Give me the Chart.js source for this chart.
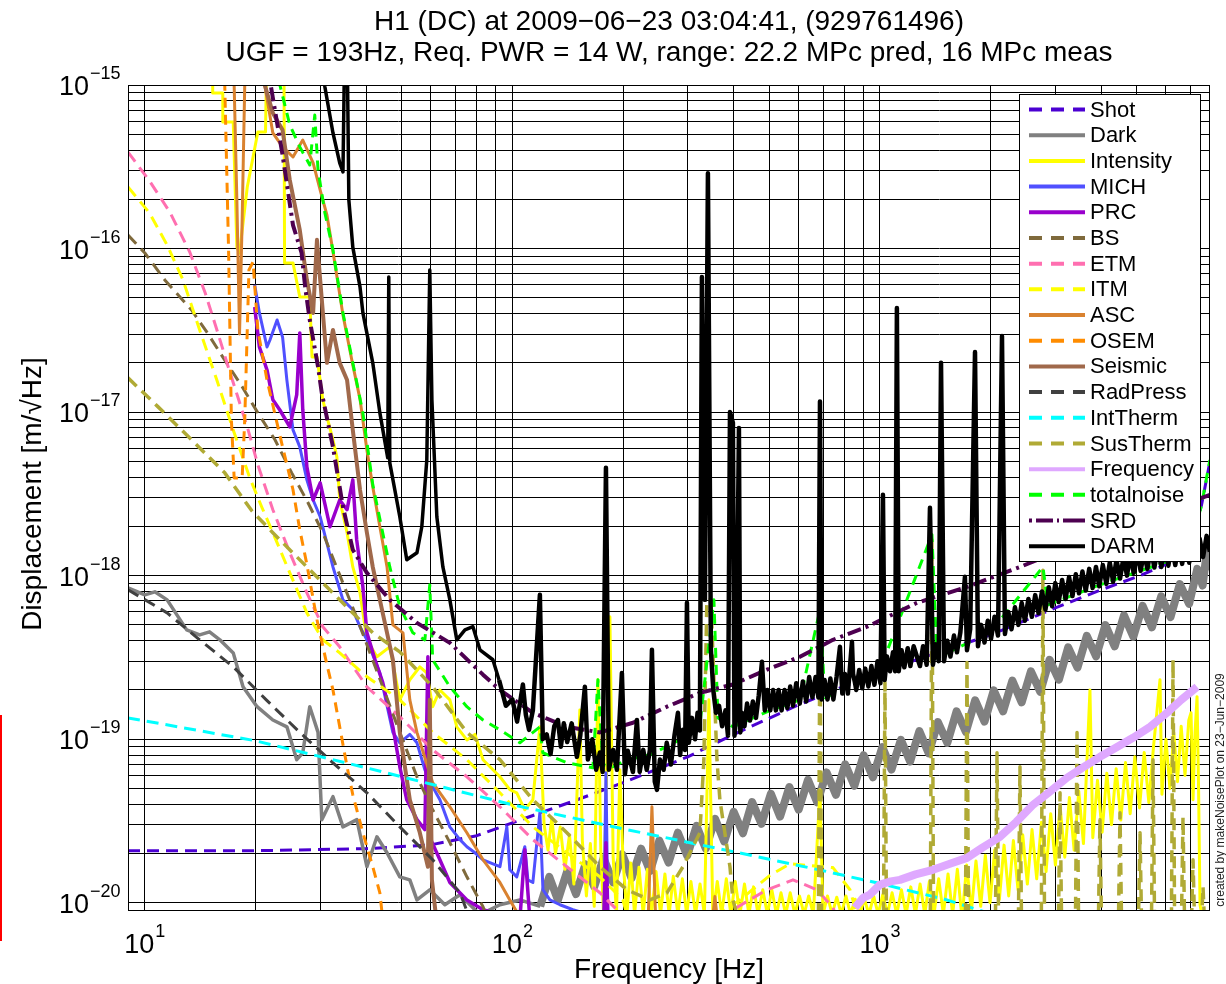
<!DOCTYPE html>
<html><head><meta charset="utf-8">
<script src="https://cdn.jsdelivr.net/npm/chart.js@4.4.1/dist/chart.umd.min.js"></script>
<style>html,body{margin:0;padding:0;background:#fff;}#wrap{width:1226px;height:984px;}</style>
</head><body><div id="wrap"><canvas id="c" width="1226" height="984"></canvas></div>
<script>
// ---------- text ----------
const titleLines = ['H1 (DC) at 2009\u221206\u221223 03:04:41, (929761496)',
                    'UGF = 193Hz, Req. PWR = 14 W, range: 22.2 MPc pred, 16 MPc meas'];
const xTitle = 'Frequency [Hz]';
const yTitle = 'Displacement [m/\u221AHz]';
const sideNote = 'created by makeNoisePlot on 23\u2212Jun\u22122009';
// ---------- axes ----------
const xRange = [9, 7906];
const yRange = [8.9e-21, 1e-15];
const xMajor = [10, 100, 1000];
const xExp = ['1', '2', '3'];
const yMajor = [1e-15, 1e-16, 1e-17, 1e-18, 1e-19, 1e-20];
const yExp = ['\u221215', '\u221216', '\u221217', '\u221218', '\u221219', '\u221220'];
const gridMult = [1, 2, 3, 4, 5, 6, 7, 8, 9];
const xDecades = [1, 10, 100, 1000];
const yDecades = [1e-21, 1e-20, 1e-19, 1e-18, 1e-17, 1e-16, 1e-15];
// ---------- series names ----------
const seriesNames = ['Shot','Dark','Intensity','MICH','PRC','BS','ETM','ITM','ASC','OSEM','Seismic','RadPress','IntTherm','SusTherm','Frequency','totalnoise','SRD','DARM'];
// ---------- data: [frequency Hz, displacement m/rtHz] ----------
const shot = [[9,2.08e-20],[20,2.08e-20],[40,2.14e-20],[60,2.26e-20],[80,2.57e-20],[100,3.08e-20],[150,4.26e-20],[200,5.42e-20],[300,7.8e-20],[400,1.07e-19],[600,1.62e-19],[1000,2.58e-19],[2000,4.34e-19],[3000,6.35e-19],[4000,8.19e-19],[5000,9.83e-19],[6000,1.17e-18],[7000,1.48e-18],[7500,2.71e-18],[7900,4.96e-18]];
const dark = [[9.0,8.42e-19],[10.0,7.63e-19],[10.65,7.96e-19],[11.5,7.11e-19],[13.0,4.66e-19],[14.1,4.34e-19],[15.0,4.53e-19],[16.0,4.05e-19],[17.4,3.37e-19],[18.5,2.09e-19],[20.2,1.58e-19],[22.3,1.31e-19],[24.35,1.19e-19],[25.9,7.49e-20],[26.9,8.26e-20],[28.1,1.58e-19],[29.6,1.10e-19],[30.3,3.22e-20],[32.5,4.45e-20],[34.6,2.91e-20],[37.75,3.22e-20],[40.2,1.66e-20],[42.8,2.53e-20],[45.6,2.02e-20],[49.4,1.44e-20],[52.6,1.38e-20],[55.0,1.04e-20],[59.6,1.20e-20],[65.5,9.72e-21],[72.0,1.12e-20],[81.6,8.45e-21],[92.5,9.72e-21],[104.8,1.04e-20],
  [119,9.5e-21],[126,1.44e-20],[133,1.04e-20],[141,1.56e-20],[149,1.13e-20],[158,1.72e-20],[167,1.25e-20],[177,1.87e-20],[188,1.33e-20],[199,1.98e-20],[211,1.41e-20],[224,2.14e-20],[237,1.56e-20],[251,2.4e-20],[266,1.76e-20],[282,2.68e-20],[299,1.94e-20],[317,2.95e-20],[336,2.14e-20],[356,3.26e-20],[377,2.37e-20],[400,3.6e-20],[424,2.66e-20],[449,4.12e-20],[476,3.04e-20],[505,4.64e-20],[535,3.36e-20],[567,5.1e-20],[601,3.71e-20],[637,5.64e-20],[675,4.11e-20],[716,6.26e-20],[759,4.57e-20],[804,7.02e-20],[852,5.19e-20],[903,7.98e-20],[957,5.85e-20],[1015,8.94e-20],[1075,6.52e-20],[1140,9.9e-20],[1208,7.3e-20],[1280,1.12e-19],[1357,8.2e-20],[1438,1.27e-19],[1525,9.5e-20],[1616,1.48e-19],[1713,1.11e-19],[1816,1.73e-19],[1925,1.28e-19],[2040,1.99e-19],[2163,1.48e-19],[2292,2.28e-19],[2430,1.68e-19],[2575,2.6e-19],[2730,1.95e-19],[2894,3.06e-19],[3068,2.31e-19],[3252,3.64e-19],[3447,2.74e-19],[3654,4.28e-19],[3873,3.21e-19],[4105,4.98e-19],[4352,3.69e-19],[4613,5.72e-19],[4890,4.23e-19],[5183,6.54e-19],[5494,4.83e-19],[5824,7.46e-19],[6173,5.58e-19],[6544,8.88e-19],[6936,6.72e-19],[7300,1.1e-18],[7550,8.7e-19],[7760,1.44e-18],[7900,1.08e-18]];
const intensity = [[14.6,2e-15],[15.3,2e-15],[15.3,8.93e-16],[16.3,8.93e-16],[16.3,5.94e-16],[17.4,5.94e-16],[17.8,1.02e-16],[18.1,9.40e-17],[19.0,2.38e-16],[19.7,3.63e-16],[20.3,5.16e-16],[21.3,5.16e-16],[21.5,2e-15],[23.9,2e-15],[24.0,8.17e-17],[25.3,8.17e-17],[26.4,5.06e-17],[28.1,5.06e-17],[28.5,2.17e-17],[29.4,2.17e-17],[30.5,1.19e-17],[31.3,9.35e-18],[32.5,6.77e-18],[33.3,5.32e-18],[33.9,2.90e-18],[35.5,1.83e-18],[36.8,1.13e-18],[38.5,7.85e-19],[40.2,4.05e-19],[42.8,3.19e-19],[46.4,3.67e-19],[49.4,1.74e-19],[52.6,2.31e-19],[56.0,2.77e-19],[58.5,2.54e-19],[60.7,1.58e-19],[63.5,2.00e-19],[67.6,1.74e-19],[70.6,1.19e-19],[75.2,9.9e-20],[79.1,1.07e-19],[83.2,7.49e-20],[92.5,5.89e-20],[98.4,4.91e-20],[102.8,4.70e-20],[108.1,3.70e-20],[113.7,4.26e-20],
  [118.8,1.19e-19],[122,3.0e-20],[125,2.1e-20],[128,3.3e-20],[131,2.0e-20],[135,2.9e-20],[139,1.6e-20],[143,2.6e-20],[147,1.3e-20],[152.6,1.51e-19],[155,2.4e-20],[159,1.1e-20],[163,2.3e-20],[167,9.5e-21],[170.9,2.31e-19],[174,2.1e-20],[177,8.5e-21],[184.2,5.6e-19],[188,1.9e-20],[192,8.5e-21],[196.1,6.5e-20],[200,1.8e-20],[205,8.5e-21],[210,1.75e-20],[215,8.5e-21],[221,1.65e-20],[227,8.5e-21],[233,1.6e-20],[239,8.5e-21],[246,1.55e-20],[253,8.5e-21],[260,1.5e-20],[267,8.5e-21],[274,1.45e-20],[282,8.5e-21],[290,1.4e-20],[298,8.5e-21],[306,1.35e-20],[315,8.5e-21],[324,1.3e-20],[333,8.5e-21],[342.5,1.74e-19],[351,8.5e-21],[361,1.35e-20],[371,8.5e-21],[382,1.4e-20],[393,8.5e-21],[404,1.35e-20],[416,8.5e-21],[428,1.3e-20],[440,8.5e-21],[453,1.25e-20],[466,8.5e-21],[480,1.2e-20],[494,8.5e-21],[508,1.2e-20],[523,8.5e-21],[538,1.15e-20],[554,8.5e-21],[570,1.15e-20],[587,8.5e-21],[604,1.1e-20],[622,8.5e-21],[640,1.1e-20],[659,8.5e-21],[686.8,4.91e-20],[700,8.5e-21],[720,1.1e-20],[741,8.5e-21],[763,1.08e-20],[785,8.5e-21],[808,1.1e-20],[832,8.5e-21],[856,1.05e-20],[881,8.5e-21],[907,1.05e-20],[934,8.5e-21],[961,1.1e-20],[989,8.5e-21],[1018,1.12e-20],[1048,8.5e-21],[1079,1.15e-20],[1111,8.5e-21],[1144,1.2e-20],[1178,8.5e-21],[1213,1.25e-20],[1249,8.5e-21],[1286,1.3e-20],[1324,8.5e-21],[1363,1.35e-20],[1403,8.5e-21],[1445,1.4e-20],[1488,8.5e-21],[1532,1.5e-20],[1577,8.5e-21],[1624,1.6e-20],[1672,8.0e-21],[1722,1.7e-20],[1773,8.8e-21],[1825,1.8e-20],[1880,9.5e-21],[1935,1.95e-20],[1993,1.0e-20],[2052,2.1e-20],[2113,1.05e-20],[2176,2.25e-20],[2240,1.1e-20],[2307,2.4e-20],[2375,1.2e-20],[2446,2.6e-20],[2518,1.3e-20],[2593,2.8e-20],[2670,1.4e-20],[2750,3.1e-20],[2831,1.55e-20],[2915,3.5e-20],[3002,1.7e-20],[3091,3.9e-20],[3183,1.9e-20],[3277,4.4e-20],[3375,2.1e-20],[3475,4.8e-20],[3578,2.3e-20],[3727,2.0e-19],[3794,2.5e-20],[3907,5.6e-20],[4023,2.7e-20],[4142,6.2e-20],[4265,3.0e-20],[4392,6.6e-20],[4522,3.2e-20],[4657,7.2e-20],[4795,3.5e-20],[4937,7.8e-20],[5084,3.8e-20],[5235,8.3e-20],[5390,4.1e-20],[5550,9.0e-20],[5780,2.31e-19],[5850,4.6e-20],[6000,1.0e-19],[6150,5.0e-20],[6300,1.1e-19],[6450,5.5e-20],[6600,1.2e-19],[6760,6.0e-20],[6920,1.3e-19],[7020,1.45e-19],[7109,4.26e-20],[7200,1.1e-19],[7290,1.82e-19],[7360,5e-20],[7427,9.72e-21],[7600,7.3e-21]];
const mich = [[19.9,6.0e-17],[20.5,4.04e-17],[21.5,2.50e-17],[21.9,2.76e-17],[22.9,3.66e-17],[23.7,2.88e-17],[24.35,1.57e-17],[25.3,7.78e-18],[26.4,6.13e-18],[27.6,3.85e-18],[28.7,2.90e-18],[30.0,2.29e-18],[32.5,1.13e-18],[34.6,7.11e-19],[36.8,6.18e-19],[38.5,4.87e-19],[40.2,4.05e-19],[43.6,2.54e-19],[47.3,1.10e-19],[49.4,9.5e-20],[52.6,1.07e-19],[55.0,9.5e-20],[57.8,6.50e-20],[60.7,5.12e-20],[63.5,4.26e-20],[67.6,2.91e-20],[72.0,2.43e-20],[75.2,2.20e-20],[79.1,2.02e-20],[83.2,1.83e-20],[89.6,1.71e-20],[92.5,1.66e-20],[96.6,2.91e-20],[98.4,1.59e-20],[102.8,1.44e-20],[108.1,2.20e-20],[110.2,1.38e-20],[113.7,1.33e-20],[118.8,3.55e-20],[121.1,1.20e-20],[126.5,1.04e-20],[134.7,9.72e-21],[146.1,9.06e-21],[162.5,8.45e-21],[177.4,8.45e-21],[179.7,6.23e-20],[181.9,8.45e-21],[196.1,7.87e-21]];
const prc = [[19.9,4.39e-17],[20.5,2.50e-17],[21.5,1.81e-17],[22.3,1.19e-17],[23.3,1.03e-17],[24.8,8.12e-18],[25.9,1.28e-17],[26.4,3.05e-17],[26.9,1.03e-17],[27.6,4.63e-18],[28.7,2.90e-18],[30.0,3.69e-18],[31.9,1.99e-18],[33.9,2.90e-18],[35.5,2.53e-18],[36.8,3.85e-18],[37.7,1.66e-18],[39.2,8.54e-19],[40.2,4.47e-19],[42.3,3.06e-19],[44.4,2.22e-19],[47.3,1.19e-19],[49.4,6.78e-20],[51.6,4.26e-20],[55.0,3.22e-20],[57.8,2.80e-20],[58.9,3.19e-19],[60.0,2.43e-20],[63.5,1.83e-20],[67.6,1.33e-20],[75.2,1.04e-20],[83.2,9.06e-21],[92.5,8.45e-21],[104.8,7.87e-21],[108.1,2.11e-20],[111.6,7.87e-21],[177.4,7.87e-21],[179.7,2.33e-20],[181.9,7.87e-21]];
const bs = [[9.0,1.21e-16],[10.0,9.40e-17],[11.33,6.43e-17],[13.4,4.21e-17],[14.8,3.05e-17],[16.5,2.08e-17],[18.4,1.43e-17],[20.3,9.89e-18],[22.6,6.77e-18],[25.1,4.25e-18],[27.8,2.79e-18],[30.5,1.83e-18],[33.9,1.01e-18],[37.75,5.52e-19],[40.2,3.78e-19],[44.4,2.09e-19],[49.4,1.10e-19],[55.0,5.89e-20],[60.7,3.70e-20],[67.6,2.33e-20],[75.2,1.44e-20],[83.2,9.45e-21],[86.9,7.3e-21]];
const etm = [[9.0,3.89e-16],[10.3,2.59e-16],[11.7,1.67e-16],[13.25,9.53e-17],[14.6,5.35e-17],[15.8,3.05e-17],[16.8,1.94e-17],[17.9,1.24e-17],[19.1,7.78e-18],[20.3,4.76e-18],[22.3,2.53e-18],[24.8,1.38e-18],[27.6,7.85e-19],[30.5,4.87e-19],[33.9,3.67e-19],[40.2,2.09e-19],[49.4,1.37e-19],[60.7,8.6e-20],[75.2,5.89e-20],[92.5,3.86e-20],[113.7,2.43e-20],[140.7,1.66e-20],[173.0,1.15e-20],[192.5,9.06e-21],[202.4,7.3e-21],[378.6,7.3e-21],[398.1,9.06e-21],[492.6,1.20e-20],[579.9,1.38e-20],[674.1,1.20e-20],[745.0,9.32e-21],[778.4,7.3e-21]];
const itm = [[9.0,2.38e-16],[10.3,1.65e-16],[11.5,1.05e-16],[12.7,6.43e-17],[14.1,3.18e-17],[15.7,1.57e-17],[17.4,7.78e-18],[19.3,3.96e-18],[20.8,2.63e-18],[22.3,1.83e-18],[24.8,1.04e-18],[27.6,5.92e-19],[30.5,4.05e-19],[33.9,3.37e-19],[40.2,2.41e-19],[49.4,1.74e-19],[60.7,1.10e-19],[75.2,7.49e-20],[92.5,4.70e-20],[113.7,2.91e-20],[140.7,2.02e-20],[173.0,1.44e-20],[199.8,1.04e-20],[208.7,7.3e-21],[323.7,7.3e-21],[415.9,1.04e-20],[502.0,1.47e-20],[569.0,1.73e-20],[745.0,1.64e-20],[828.8,1.20e-20],[882.3,7.3e-21]];
const asc = [[17.0,2e-15],[17.5,1e-15],[17.8,1.98e-16],[18.1,3.0e-17],[18.4,1.50e-16],[18.7,1e-15],[19.0,2e-15],[20.8,2e-15],[21.2,1e-15],[22.3,5.09e-16],[23.7,4.18e-16],[25.3,3.63e-16],[26.9,4.61e-16],[28.7,3.34e-16],[30.0,2.28e-16],[31.3,1.6e-16],[32.5,9.6e-17],[34.6,3.93e-17],[36.8,1.94e-17],[38.5,1.2e-17],[40.2,5.87e-18],[41.7,3.49e-18],[43.6,1.99e-18],[45.6,1.13e-18],[47.3,5.00e-19],[50.4,4.47e-19],[52.6,1.74e-19],[55.0,1.10e-19],[60.7,5.42e-20],[67.6,3.86e-20],[75.2,2.68e-20],[83.2,1.83e-20],[92.5,1.33e-20],[98.4,1.04e-20],[102.8,8.8e-21],[111.6,7.3e-21],[233.8,7.3e-21],[239.7,3.86e-20],[245.7,7.3e-21],[349.0,7.3e-21],[355.6,1.09e-20],[362.4,7.3e-21]];
const osem = [[14.1,2e-15],[16.5,1e-15],[16.9,9.8e-17],[17.2,8.96e-18],[17.5,3.96e-18],[18.4,3.96e-18],[18.7,8.96e-18],[19.2,7.40e-17],[19.7,8.28e-17],[20.3,3.18e-17],[21.5,1.57e-17],[23.7,6.13e-18],[25.3,3.35e-18],[26.4,1.91e-18],[27.6,1.17e-18],[29.4,5.37e-19],[31.3,2.85e-19],[32.5,2.00e-19],[33.9,1.19e-19],[35.5,6.78e-20],[36.8,4.57e-20],[39.2,2.68e-20],[41.7,1.66e-20],[43.6,1.15e-20],[44.4,7.87e-21]];
const seismic = [[20.8,2e-15],[21.2,1e-15],[22.3,6.74e-16],[23.7,5.31e-16],[24.8,2.62e-16],[26.4,1.30e-16],[27.6,6.43e-17],[28.7,4.04e-17],[29.4,1.13e-16],[30.0,6.43e-17],[31.3,2.00e-17],[32.5,3.18e-17],[33.9,2.00e-17],[35.5,1.57e-17],[36.8,7.78e-18],[38.5,3.35e-18],[40.2,1.83e-18],[41.7,1.13e-18],[43.6,7.11e-19],[45.6,4.47e-19],[47.3,3.06e-19],[49.4,1.10e-19],[52.6,4.26e-20],[56.0,2.68e-20],[58.9,1.66e-20],[59.6,1.74e-19],[60.4,1.38e-20],[61.9,8.45e-21]];
const radPress = [[9.0,8.2e-19],[11.5,5.92e-19],[14.1,4.05e-19],[17.4,2.77e-19],[21.4,1.74e-19],[26.4,1.10e-19],[32.5,7.17e-20],[40.2,4.70e-20],[49.4,2.91e-20],[60.7,1.83e-20],[72.0,1.15e-20],[75.0,9.06e-21],[82.0,7.5e-21]];
const intTherm = [[9,1.35e-19],[20,9.78e-20],[40,6.69e-20],[100,3.97e-20],[200,2.83e-20],[400,2.05e-20],[700,1.57e-20],[1000,1.31e-20],[1500,1.05e-20],[2000,8.56e-21]];
const susTherm = [[9.0,1.62e-17],[10.85,1.08e-17],[13.4,6.77e-18],[16.5,4.25e-18],[19.55,2.49e-18],[22.3,1.83e-18],[27.6,1.13e-18],[33.9,7.11e-19],[41.7,4.47e-19],[49.4,3.42e-19],[60.7,2.09e-19],[75.2,1.10e-19],[92.5,7.49e-20],[113.7,4.26e-20],[140.7,2.68e-20],[173.0,1.66e-20],[204.9,1.20e-20],[236.7,1.04e-20],[263.3,1.15e-20],[291.1,1.66e-20],[323.7,2.68e-20],[331.9,7.49e-20],[338.2,7.11e-19],[346.8,7.11e-19],[360.2,7.49e-20],[366.9,4.26e-20],[390.8,1.66e-20],[398.1,1.04e-20],[415.9,7.3e-21],
  [680,7.3e-21],[686.8,5.76e-19],[694,7.3e-21],[1022,7.3e-21],[1032,2.22e-19],[1042,7.3e-21],[1371,7.3e-21],[1385,1.66e-18],[1399,7.3e-21],[1708,7.3e-21],[1725,2.94e-19],[1742,7.3e-21],[2061,7.3e-21],[2082,8.26e-20],[2103,7.3e-21],[2380,7.3e-21],[2404,6.78e-20],[2428,7.3e-21],[2748,7.3e-21],[2776,1.08e-18],[2804,7.3e-21],[3059,7.3e-21],[3090,4.70e-20],[3121,7.3e-21],[3403,7.3e-21],[3437,1.10e-19],[3471,7.3e-21],[3928,7.3e-21],[3968,3.22e-20],[4008,7.3e-21],[4454,7.3e-21],[4499,3.55e-20],[4544,7.3e-21],[5049,7.3e-21],[5100,2.68e-20],[5151,7.3e-21],[5478,7.3e-21],[5533,7.49e-20],[5588,7.3e-21],[6208,7.3e-21],[6271,3.06e-19],[6334,7.3e-21],[6609,7.3e-21],[6676,3.35e-20],[6743,7.3e-21],[7038,7.3e-21],[7109,1.83e-20],[7180,7.3e-21],[7492,7.3e-21],[7568,1.25e-20],[7644,7.3e-21]];
const frequencyNoise = [[855,9.32e-21],[900,1.07e-20],[939,1.12e-20],[1000,1.29e-20],[1070,1.35e-20],[1133,1.38e-20],[1250,1.49e-20],[1394,1.59e-20],[1550,1.73e-20],[1725,1.88e-20],[1900,2.17e-20],[2121,2.53e-20],[2350,3.12e-20],[2608,3.97e-20],[2900,4.78e-20],[3227,5.81e-20],[3560,6.69e-20],[3968,7.80e-20],[4380,8.86e-20],[4880,1.02e-19],[5430,1.19e-19],[6039,1.45e-19],[6600,1.74e-19],[7290,2.09e-19]];
const totalNoise = [[9,1e-13],[21.9,2e-15],[23.3,1e-15],[24.8,5.70e-16],[26.4,4.18e-16],[28.1,3.24e-16],[29.0,6.55e-16],[29.6,3.02e-16],[30.9,1.65e-16],[32.5,9.80e-17],[34.6,4.04e-17],[36.8,2.00e-17],[39.2,9.89e-18],[41.7,3.6e-18],[46.4,1.13e-18],[49.4,6.44e-19],[53.6,4.47e-19],[57.8,4.05e-19],[59.6,8.78e-19],[60.7,3.06e-19],[67.6,2.09e-19],[75.2,1.58e-19],[83.2,1.31e-19],[92.5,1.14e-19],[104.8,9.5e-20],[118.8,1.19e-19],[121,8.26e-20],[140.7,7.17e-20],[165.6,6.69e-20],[170.9,2.31e-19],[176.3,6.98e-20],[187.7,6.78e-20],[204.9,7.49e-20],[236.7,8.03e-20],[285.6,9.9e-20],[323.7,1.23e-19],[353.4,7.11e-19],[362.4,1.35e-19],[398,1.19e-19],[492.6,1.47e-19],[605.8,1.74e-19],[686.6,6.18e-19],[708.5,1.79e-19],[1000,2.66e-19],[1385,1.78e-18],[1429,3.14e-19],[2000,4.53e-19],[2776,1.13e-18],[2865,6.63e-19],[3968,8.78e-19],[6039,1.22e-18],[7020,1.54e-18],[7500,2.71e-18],[7900,5.10e-18]];
const srd = [[20.8,3e-15],[22.0,1e-15],[23.7,3.73e-16],[25.3,1.39e-16],[26.7,9.40e-17],[27.3,5.83e-17],[28.1,3.66e-17],[29.6,1.89e-17],[30.3,1.31e-17],[32.5,6.13e-18],[34.6,2.63e-18],[36.8,1.44e-18],[40.2,1.04e-18],[46.4,7.11e-19],[55.0,5.14e-19],[67.6,3.88e-19],[83.2,2.48e-19],[92.5,2.00e-19],[113.7,1.45e-19],[140.7,1.19e-19],[173.0,1.10e-19],[212.8,1.26e-19],[263.3,1.58e-19],[323.7,1.92e-19],[398.1,2.16e-19],[492.6,2.66e-19],[605.8,3.19e-19],[745.0,4.05e-19],[921.9,4.87e-19],[1261,6.82e-19],[1725,8.54e-19],[2404,1.13e-18],[3968,1.78e-18],[7900,3.12e-18]];
const darm = [[29.6,2e-15],[30.9,9.72e-16],[32.5,5.09e-16],[33.9,3.34e-16],[34.6,2.94e-16],[35.0,2e-15],[35.5,2e-15],[35.9,1.98e-16],[36.8,1.02e-16],[38.5,5.83e-17],[39.2,4.04e-17],[41.7,2.00e-17],[43.6,9.89e-18],[45.8,5.25e-18],[46.1,6.70e-17],[46.4,4.89e-18],[49.4,2.29e-18],[51.6,1.25e-18],[55.0,1.38e-18],[56.7,1.99e-18],[58.5,5.10e-18],[59.6,7.40e-17],[60.4,1.19e-17],[62.3,2.29e-18],[64.7,1.13e-18],[67.6,7.11e-19],[70.6,4.05e-19],[74.3,4.66e-19],[78.1,4.87e-19],[81.6,3.52e-19],[88.5,3.06e-19],
  [92,2.3e-19],[96,1.6e-19],[100,1.75e-19],[103,1.28e-19],[106.8,2.16e-19],[108.8,1.41e-19],[111,1.14e-19],[113.7,1.5e-19],[118.8,7.63e-19],[121,1.0e-19],[124,1.07e-19],[127,8.1e-20],[130,1.2e-19],[133,1.31e-19],[135.5,9.0e-20],[138,1.25e-19],[141,9.6e-20],[145,1.25e-19],[149.8,7.8e-20],[153,1.05e-19],[157.5,2.09e-19],[160.5,7.5e-20],[165,1.0e-19],[169,6.5e-20],[173,8.3e-20],[176,6.3e-20],[179.7,4.56e-18],[183,6.5e-20],[188,8.6e-20],[192.5,6.5e-20],[198.6,2.54e-19],[202.4,6.1e-20],[206,8.5e-20],[212.8,6.3e-20],[218.2,1.31e-19],[222,6.3e-20],[227,8.6e-20],[232,6.5e-20],[236.7,8.6e-20],[239.7,3.52e-19],[244,5.5e-20],[247.4,4.9e-20],[252,7.5e-20],[258,6.5e-20],[263,9.5e-20],[270,7.0e-20],[276,1.05e-19],[282.1,1.45e-19],[286,8.0e-20],[291,1.14e-19],[295,8.6e-20],[298.5,6.82e-19],[302,9.5e-20],[308,1.35e-19],[314,1.0e-19],[319,1.45e-19],[323.7,1.13e-19],[327.8,6.70e-17],[334.1,7.11e-19],[340.4,2.89e-16],[346.8,3.52e-19],[352,2.0e-19],[357.9,1.45e-19],[365,1.6e-19],[372,1.2e-19],[380,1.5e-19],[386,1.05e-19],[390.8,1.0e-17],[398.1,8.59e-18],[402,1.05e-19],[405.7,1.31e-19],[413.4,8.0e-18],[417,1.1e-19],[421,1.45e-19],[428,1.2e-19],[435,1.65e-19],[443,1.3e-19],[451,1.7e-19],[460,1.35e-19],[468,1.85e-19],[477.5,2.97e-19],[486,1.5e-19],[494,2.0e-19],[503,1.5e-19],[512,2.0e-19],[521,1.5e-19],[530,2.0e-19],[540,1.5e-19],[550,2.0e-19],[560,1.55e-19],[570,2.1e-19],[580,1.6e-19],[592,2.2e-19],[605,1.65e-19],[617,2.25e-19],[630,1.7e-19],[642,2.4e-19],[655,1.8e-19],[668,2.4e-19],[680,1.8e-19],[686.8,1.16e-17],[694,1.75e-19],[707,2.3e-19],[720,1.75e-19],[733,2.35e-19],[747,1.75e-19],[762,2.4e-19],[778.4,3.67e-19],[790,1.9e-19],[803,2.5e-19],[818,1.9e-19],[839.2,3.94e-19],[845,2.5e-19],[855.1,2.22e-19],[862,2.0e-19],[878,2.65e-19],[895,2.05e-19],[912,2.7e-19],[930,2.1e-19],[948,2.8e-19],[966,2.15e-19],[985,3.0e-19],[1003,2.2e-19],[1019,3.12e-18],[1030,2.3e-19],[1045,3.2e-19],[1065,2.6e-19],[1085,3.4e-19],[1100,2.6e-19],[1112,4.33e-17],[1125,2.6e-19],[1145,3.5e-19],[1165,2.75e-19],[1190,3.6e-19],[1210,2.8e-19],[1235,3.7e-19],[1261,3.19e-19],[1285,2.8e-19],[1310,3.7e-19],[1340,2.85e-19],[1368,2.6e-18],[1394,2.85e-19],[1420,3.8e-19],[1445,3.0e-19],[1466,2.0e-17],[1494,3.0e-19],[1525,4.0e-19],[1555,3.2e-19],[1590,4.3e-19],[1620,3.4e-19],[1655,4.5e-19],[1703,9.83e-19],[1725,3.5e-19],[1760,4.7e-19],[1814,2.33e-17],[1848,3.7e-19],[1885,5.0e-19],[1925,3.9e-19],[1965,5.3e-19],[2005,4.1e-19],[2050,5.6e-19],[2095,4.3e-19],[2148,2.92e-17],[2188,4.4e-19],[2235,6.0e-19],[2280,4.7e-19],[2330,6.4e-19],[2380,5.0e-19],[2430,6.8e-19],[2480,5.3e-19],[2535,7.2e-19],[2590,5.6e-19],[2645,7.6e-19],[2700,5.9e-19],[2760,8.0e-19],[2820,6.2e-19],[2880,8.5e-19],[2940,6.5e-19],[3000,9.0e-19],[3065,6.9e-19],[3130,9.4e-19],[3200,7.2e-19],[3270,9.8e-19],[3340,7.5e-19],[3410,1.02e-18],[3480,7.8e-19],[3555,1.06e-18],[3630,8.1e-19],[3710,1.1e-18],[3790,8.4e-19],[3870,1.13e-18],[3950,8.6e-19],[4040,1.16e-18],[4130,8.9e-19],[4220,1.2e-18],[4310,9.2e-19],[4400,1.25e-18],[4500,9.6e-19],[4600,1.3e-18],[4700,1.0e-18],[4800,1.35e-18],[4900,1.04e-18],[5010,1.38e-18],[5120,1.07e-18],[5230,1.4e-18],[5340,1.1e-18],[5460,1.45e-18],[5580,1.12e-18],[5700,1.48e-18],[5830,1.13e-18],[5960,1.5e-18],[6090,1.15e-18],[6220,1.52e-18],[6360,1.16e-18],[6500,1.55e-18],[6640,1.18e-18],[6790,1.58e-18],[6940,1.2e-18],[7090,1.6e-18],[7250,1.25e-18],[7410,1.68e-18],[7570,1.3e-18],[7740,1.75e-18],[7900,1.4e-18]];
const seriesData = [shot, dark, intensity, mich, prc, bs, etm, itm, asc, osem, seismic, radPress, intTherm, susTherm, frequencyNoise, totalNoise, srd, darm];

// ---------- styles ----------
const D = [12, 7];
const seriesStyle = [
  {color:'#4b00d2', dash:D, width:3},
  {color:'#808080', dash:[], width:3.5, wideFrom:110, wide:8},
  {color:'#ffff00', dash:[], width:3},
  {color:'#5050ff', dash:[], width:3},
  {color:'#9900cc', dash:[], width:3.5},
  {color:'#7f6a3c', dash:D, width:3},
  {color:'#ff6fb0', dash:D, width:3},
  {color:'#ffff00', dash:D, width:3},
  {color:'#d98230', dash:[], width:3},
  {color:'#ff8c00', dash:[10, 7], width:3},
  {color:'#a0694b', dash:[], width:4},
  {color:'#404040', dash:D, width:3},
  {color:'#00ffff', dash:D, width:3},
  {color:'#b0aa35', dash:D, width:3.5},
  {color:'#dfa8ff', dash:[], width:8},
  {color:'#00ff00', dash:[10, 7], width:3},
  {color:'#4d0050', dash:[14, 5, 3, 5], width:4},
  {color:'#000000', dash:[], width:3.5, wideFrom:90, wide:4.5}
];
const FONT = "'Liberation Sans', Arial, Helvetica, sans-serif";

function gridValues(decades, range) {
  const out = [];
  decades.forEach(d => gridMult.forEach(m => { const v = m * d; if (v >= range[0] * 0.999 && v <= range[1] * 1.001) out.push(v); }));
  return out;
}

const datasets = seriesData.map((arr, i) => {
  const st = seriesStyle[i];
  const ds = {
    label: seriesNames[i],
    data: arr.map(p => ({x: p[0], y: p[1]})),
    showLine: true,
    borderColor: st.color,
    backgroundColor: st.color,
    borderWidth: st.width,
    borderDash: st.dash,
    borderJoinStyle: 'round',
    pointRadius: 0,
    pointHoverRadius: 0,
    tension: 0,
    fill: false,
    clip: 0,
    order: seriesNames.length - 1 - i
  };
  if (st.wideFrom) ds.segment = {borderWidth: ctx => (ctx.p0.parsed.x >= st.wideFrom ? st.wide : st.width)};
  return ds;
});

const decor = {
  id: 'decor',
  beforeDraw(chart) {
    const c = chart.ctx;
    c.save(); c.fillStyle = '#fff'; c.fillRect(0, 0, chart.width, chart.height); c.restore();
  },
  afterDraw(chart) {
    const c = chart.ctx, a = chart.chartArea, xs = chart.scales.x, ys = chart.scales.y;
    c.save();
    c.strokeStyle = '#000'; c.lineWidth = 1; c.setLineDash([]);
    c.strokeRect(Math.round(a.left) + 0.5, Math.round(a.top) + 0.5, Math.round(a.right - a.left) - 1, Math.round(a.bottom - a.top) - 1);
    c.fillStyle = '#000';
    yMajor.forEach((v, i) => {
      const y = ys.getPixelForValue(v);
      c.font = '27px ' + FONT; c.textAlign = 'right'; c.textBaseline = 'alphabetic';
      c.fillText('10', 89, y + 10);
      c.font = '18px ' + FONT; c.textAlign = 'left';
      c.fillText(yExp[i], 90, y - 6);
    });
    xMajor.forEach((v, i) => {
      const x = xs.getPixelForValue(v);
      c.font = '27px ' + FONT; const w1 = c.measureText('10').width;
      c.font = '18px ' + FONT; const w2 = c.measureText(xExp[i]).width;
      const x0 = x - (w1 + w2 + 1) / 2;
      c.textAlign = 'left'; c.textBaseline = 'alphabetic';
      c.font = '27px ' + FONT; c.fillText('10', x0, 953);
      c.font = '18px ' + FONT; c.fillText(xExp[i], x0 + w1 + 1, 937);
    });
    const cx = (a.left + a.right) / 2;
    c.font = '28px ' + FONT; c.textAlign = 'center'; c.textBaseline = 'alphabetic';
    c.fillText(titleLines[0], cx, 30);
    c.fillText(titleLines[1], cx, 61);
    c.fillText(xTitle, cx, 978);
    c.save(); c.translate(41, 494); c.rotate(-Math.PI / 2); c.fillText(yTitle, 0, 0); c.restore();
    // legend
    const lx = 1019.5, ly = 94.5, lw = 181, lh = 467;
    c.fillStyle = '#fff'; c.fillRect(lx, ly, lw, lh);
    c.strokeStyle = '#000'; c.lineWidth = 1; c.strokeRect(lx, ly, lw, lh);
    seriesNames.forEach((n, i) => {
      const y = 109.5 + i * 25.69;
      const st = seriesStyle[i];
      c.strokeStyle = st.color; c.lineWidth = 4; c.lineCap = 'butt';
      let dash = [];
      if (i === 16) dash = [3, 4, 17, 4, 2, 4, 22, 10];
      else if (st.dash.length) dash = [13, 9];
      c.setLineDash(dash);
      c.beginPath(); c.moveTo(1029, y); c.lineTo(1085, y); c.stroke();
      c.setLineDash([]);
      c.fillStyle = '#000'; c.font = '22px ' + FONT; c.textAlign = 'left'; c.textBaseline = 'middle';
      c.fillText(n, 1090, y + 1);
    });
    c.save(); c.translate(1221, 790); c.rotate(-Math.PI / 2);
    c.fillStyle = '#222'; c.font = '12px ' + FONT; c.textAlign = 'center'; c.textBaseline = 'middle';
    c.fillText(sideNote, 0, 0); c.restore();
    c.fillStyle = '#ff0000'; c.fillRect(0, 715, 2, 226);
    c.restore();
  }
};

new Chart(document.getElementById('c').getContext('2d'), {
  type: 'scatter',
  data: {datasets},
  options: {
    responsive: false, animation: false, devicePixelRatio: 1,
    layout: {padding: {left: 0, right: 16, top: 85, bottom: 0}},
    plugins: {legend: {display: false}, title: {display: false}, tooltip: {enabled: false}},
    events: [],
    scales: {
      x: {type: 'logarithmic', min: xRange[0], max: xRange[1],
          afterFit(s) { s.height = 73; },
          afterBuildTicks(s) { s.ticks = gridValues(xDecades, xRange).map(v => ({value: v})); },
          ticks: {display: false},
          grid: {color: '#000', lineWidth: 1, drawTicks: false},
          border: {display: false}},
      y: {type: 'logarithmic', min: yRange[0], max: yRange[1],
          afterFit(s) { s.width = 128; },
          afterBuildTicks(s) { s.ticks = gridValues(yDecades, yRange).map(v => ({value: v})); },
          ticks: {display: false},
          grid: {color: '#000', lineWidth: 1, drawTicks: false},
          border: {display: false}}
    }
  },
  plugins: [decor]
});
</script>
</body></html>
